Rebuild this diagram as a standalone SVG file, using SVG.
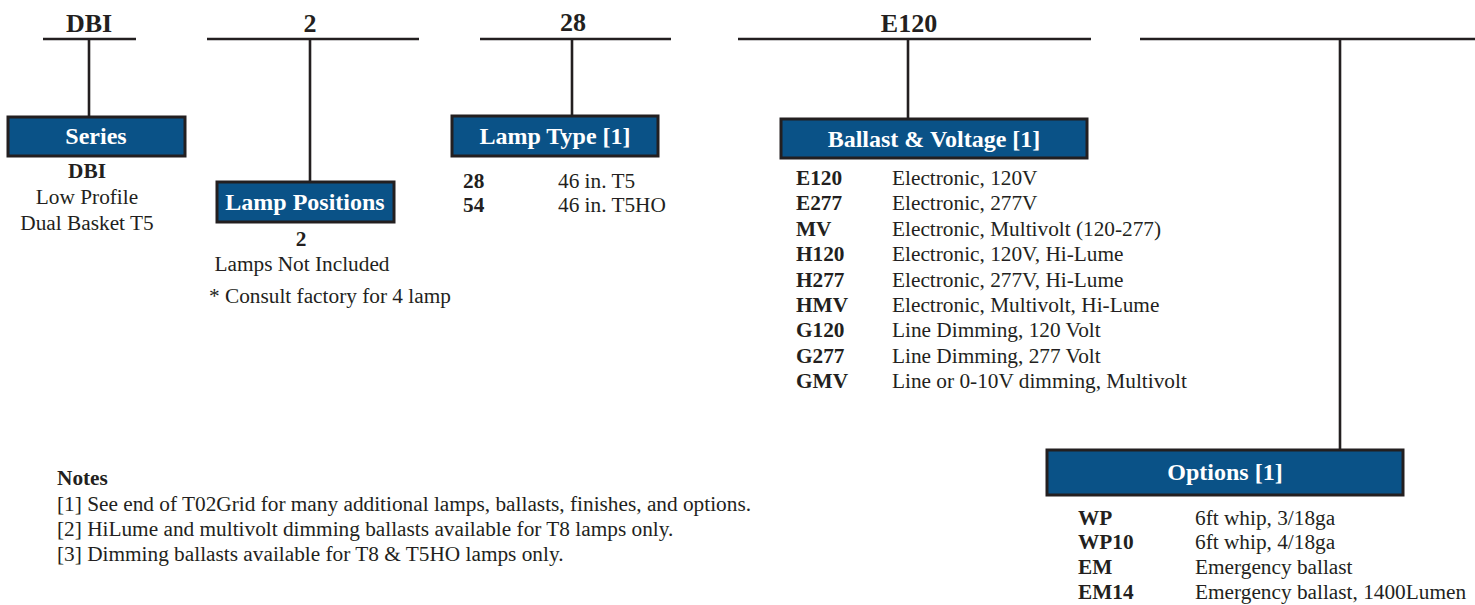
<svg xmlns="http://www.w3.org/2000/svg" width="1475" height="605" viewBox="0 0 1475 605">
<style>
.ln{stroke:#231f20;stroke-width:2.6;fill:none}
.box{fill:#0a5287;stroke:#231f20;stroke-width:3}
.bt{font-family:"Liberation Serif",serif;font-weight:bold;font-size:24px;fill:#fff;text-anchor:middle}
.tt{font-family:"Liberation Serif",serif;font-weight:bold;font-size:26px;fill:#231f20;text-anchor:middle}
.t{font-family:"Liberation Serif",serif;font-size:21.3px;fill:#231f20}
.b{font-family:"Liberation Serif",serif;font-size:21.3px;font-weight:bold;fill:#231f20}
.n{font-family:"Liberation Serif",serif;font-size:21.3px;fill:#231f20}
.c{text-anchor:middle}
</style>
<g id="connectors">
<line class="ln" x1="43" y1="39" x2="136" y2="39"/>
<line class="ln" x1="89" y1="39" x2="89" y2="117"/>
<line class="ln" x1="207" y1="39" x2="419" y2="39"/>
<line class="ln" x1="310" y1="39" x2="310" y2="182"/>
<line class="ln" x1="480" y1="39" x2="671" y2="39"/>
<line class="ln" x1="572" y1="39" x2="572" y2="116"/>
<line class="ln" x1="738" y1="39" x2="1091" y2="39"/>
<line class="ln" x1="908" y1="39" x2="908" y2="119"/>
<line class="ln" x1="1140" y1="39" x2="1475" y2="39"/>
<line class="ln" x1="1340" y1="39" x2="1340" y2="450"/>
</g>
<g id="titles">
<text class="tt" x="89" y="32">DBI</text>
<text class="tt" x="310" y="32">2</text>
<text class="tt" x="573" y="31">28</text>
<text class="tt" x="909" y="32">E120</text>
</g>
<g id="series">
<rect class="box" x="8" y="117" width="177" height="39"/>
<text class="bt" x="96" y="144">Series</text>
<text class="b c" x="87" y="178">DBI</text>
<text class="t c" x="87" y="204">Low Profile</text>
<text class="t c" x="87" y="230">Dual Basket T5</text>
</g>
<g id="lamp-positions">
<rect class="box" x="217" y="182" width="177" height="40"/>
<text class="bt" x="305" y="210">Lamp Positions</text>
<text class="b c" x="301" y="246">2</text>
<text class="t c" x="302" y="271">Lamps Not Included</text>
<text class="t" x="209" y="303">* Consult factory for 4 lamp</text>
</g>
<g id="lamp-type">
<rect class="box" x="452" y="116" width="206" height="40"/>
<text class="bt" x="555" y="144">Lamp Type [1]</text>
<text class="b" x="463" y="188">28</text><text class="t" x="558" y="188">46 in. T5</text>
<text class="b" x="463" y="212">54</text><text class="t" x="558" y="212">46 in. T5HO</text>
</g>
<g id="ballast">
<rect class="box" x="781" y="119" width="306" height="39"/>
<text class="bt" x="934" y="147">Ballast &amp; Voltage [1]</text>
<text class="b" x="796" y="185">E120</text><text class="t" x="892" y="185">Electronic, 120V</text>
<text class="b" x="796" y="210">E277</text><text class="t" x="892" y="210">Electronic, 277V</text>
<text class="b" x="796" y="236">MV</text><text class="t" x="892" y="236">Electronic, Multivolt (120-277)</text>
<text class="b" x="796" y="261">H120</text><text class="t" x="892" y="261">Electronic, 120V, Hi-Lume</text>
<text class="b" x="796" y="287">H277</text><text class="t" x="892" y="287">Electronic, 277V, Hi-Lume</text>
<text class="b" x="796" y="312">HMV</text><text class="t" x="892" y="312">Electronic, Multivolt, Hi-Lume</text>
<text class="b" x="796" y="337">G120</text><text class="t" x="892" y="337">Line Dimming, 120 Volt</text>
<text class="b" x="796" y="363">G277</text><text class="t" x="892" y="363">Line Dimming, 277 Volt</text>
<text class="b" x="796" y="388">GMV</text><text class="t" x="892" y="388">Line or 0-10V dimming, Multivolt</text>
</g>
<g id="options">
<rect class="box" x="1047" y="450" width="356" height="45"/>
<text class="bt" x="1225" y="480">Options [1]</text>
<text class="b" x="1078" y="525">WP</text><text class="t" x="1195" y="525">6ft whip, 3/18ga</text>
<text class="b" x="1078" y="549">WP10</text><text class="t" x="1195" y="549">6ft whip, 4/18ga</text>
<text class="b" x="1078" y="574">EM</text><text class="t" x="1195" y="574">Emergency ballast</text>
<text class="b" x="1078" y="599">EM14</text><text class="t" x="1195" y="599">Emergency ballast, 1400Lumen</text>
</g>
<g id="notes">
<text class="b" x="57" y="485" font-size="19">Notes</text>
<text class="n" x="57" y="511">[1] See end of T02Grid for many additional lamps, ballasts, finishes, and options.</text>
<text class="n" x="57" y="536">[2] HiLume and multivolt dimming ballasts available for T8 lamps only.</text>
<text class="n" x="57" y="561">[3] Dimming ballasts available for T8 &amp; T5HO lamps only.</text>
</g>
</svg>
